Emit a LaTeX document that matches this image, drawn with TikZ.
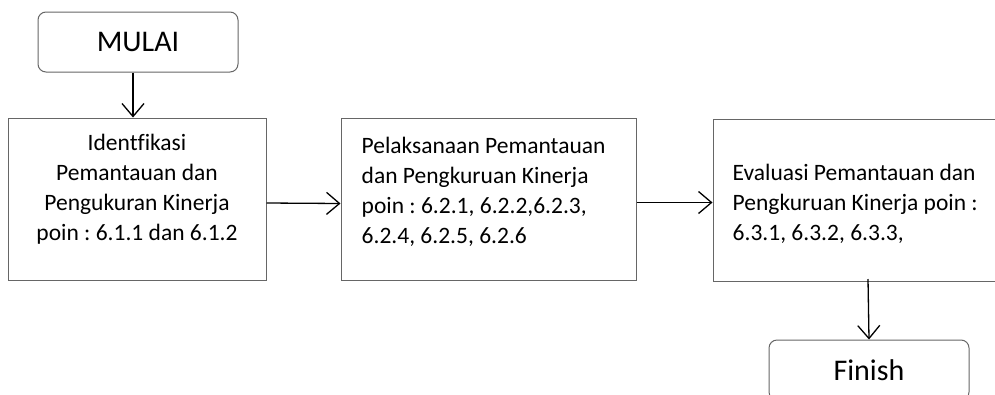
\documentclass[tikz,border=0pt]{standalone}
\usepackage{fontspec}
\setmainfont{Carlito}[Ligatures=NoCommon]
\usetikzlibrary{arrows.meta, positioning}
\frenchspacing

\begin{document}
\begin{tikzpicture}[x=1pt, y=-1pt,
  ends/.style={draw=black!60, line width=1pt, rounded corners=8pt, minimum width=200pt, minimum height=60pt, font=\fontsize{30}{36}\selectfont},
  tahap/.style={draw=black!60, line width=1pt, minimum height=162pt, inner sep=0pt},
  isi/.style={inner sep=0pt, font=\fontsize{23.5}{30}\selectfont},
  panah/.style={line width=1.3pt, -{Straight Barb[length=13pt, width=22pt, line width=1.3pt]}}]
\useasboundingbox (0,0) rectangle (995,394);
% start and finish
\node[ends] (mulai) at (138,42) {MULAI};
\node[ends] (finish) at (869,370) {Finish};
% the three stages
\node[tahap, minimum width=258pt] (ident) at (137,199) {};
\node[tahap, minimum width=295pt] (laksana) at (488.5,199.5) {};
\node[tahap, minimum width=310pt] (evaluasi) at (868,200.5) {};
% their texts
\node[isi, align=center, anchor=north] (identteks) at ([yshift=-16.5pt]ident.north)
  {Identfikasi\\Pemantauan dan\\Pengukuran Kinerja\\poin : 6.1.1 dan 6.1.2};
\node[isi, align=left, anchor=north west] (laksanateks) at ([xshift=21pt, yshift=-18.5pt]laksana.north west)
  {Pelaksanaan Pemantauan\\dan Pengkuruan Kinerja\\poin : 6.2.1, 6.2.2,6.2.3,\\6.2.4, 6.2.5, 6.2.6};
\node[isi, align=left, anchor=north west] (evaluasiteks) at ([xshift=20pt, yshift=-44.5pt]evaluasi.north west)
  {Evaluasi Pemantauan dan\\Pengkuruan Kinerja poin :\\6.3.1, 6.3.2, 6.3.3,};
% connectors
\draw[panah] ([xshift=-5pt]mulai.south) -- ([xshift=-4pt]ident.north);
\draw[panah] ([yshift=-4pt]ident.east) -- ([yshift=-4pt]laksana.west);
\draw[panah] ([yshift=-3pt]laksana.east) -- ([yshift=-2pt]evaluasi.west);
\draw[panah] ([yshift=3pt]evaluasi.south) -- (finish.north);
\end{tikzpicture}
\end{document}
